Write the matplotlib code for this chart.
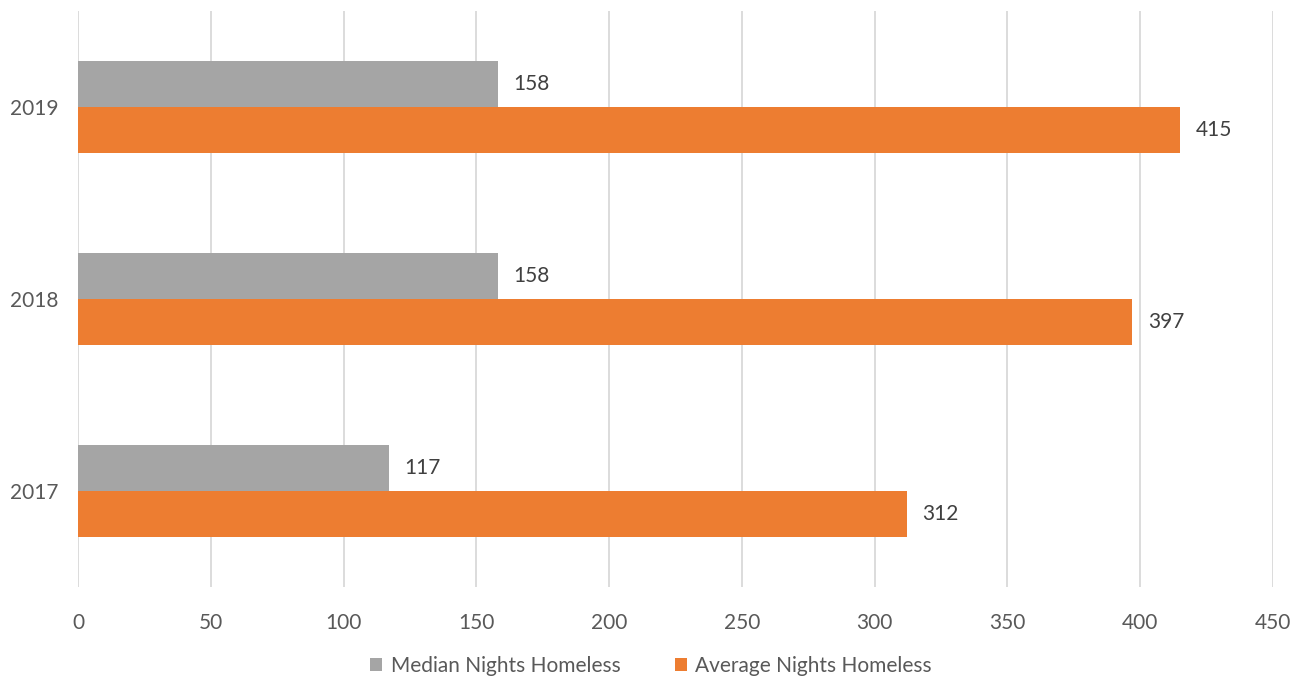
import numpy as np
import matplotlib.pyplot as plt

years = ["2017", "2018", "2019"]
median_nights = [117, 158, 158]
average_nights = [312, 397, 415]

plt.rcParams['font.family'] = ['Lato', 'DejaVu Sans']

fig = plt.figure(figsize=(13.02, 6.84), dpi=100)
ax = fig.add_axes([0.0599, 0.1418, 0.9178, 0.8421])

y = np.arange(len(years))
h = 0.24

bars_med = ax.barh(y + h / 2, median_nights, height=h, color='#a5a5a5',
                   label='Median Nights Homeless', zorder=3)
bars_avg = ax.barh(y - h / 2, average_nights, height=h, color='#ed7d31',
                   label='Average Nights Homeless', zorder=3)

# value labels just past the end of each bar
for bars in (bars_med, bars_avg):
    for b in bars:
        ax.text(b.get_width() + 6, b.get_y() + b.get_height() / 2,
                str(int(b.get_width())), va='center', ha='left',
                fontsize=15, color='#404040')

ax.set_xlim(0, 450)
ax.set_ylim(-0.5, 2.5)
ax.set_xticks(np.arange(0, 451, 50))
ax.set_yticks(y)
ax.set_yticklabels(years)
ax.tick_params(axis='both', length=0, labelsize=15, labelcolor='#595959')
ax.tick_params(axis='x', pad=19)
ax.tick_params(axis='y', pad=14)

ax.grid(axis='x', color='#d9d9d9', linewidth=1.3, zorder=0)
for s in ax.spines.values():
    s.set_visible(False)

handles = [bars_med, bars_avg]
fig.legend(handles, [h_.get_label() for h_ in handles], loc='lower center',
           bbox_to_anchor=(0.5, -0.016), ncol=2, frameon=False, fontsize=15,
           handlelength=0.6, handleheight=0.6, handletextpad=0.4,
           columnspacing=2.6, labelcolor='#595959')

fig.savefig('out.png', dpi=100)
